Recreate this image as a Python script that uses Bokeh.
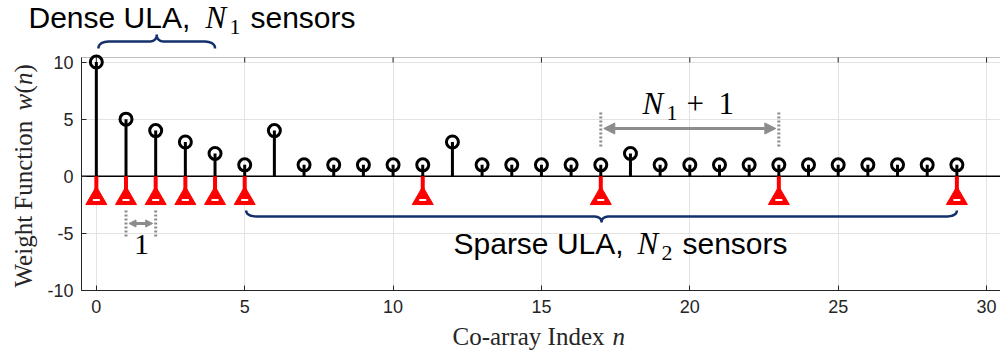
import numpy as np
from bokeh.plotting import figure
from bokeh.models import (Range1d, FixedTicker, Label, Arrow, NormalHead, Grid,
                          BoxAnnotation)
from bokeh.embed import file_html
from bokeh.resources import INLINE

# ---------------- data ----------------
n_index = list(range(30))
weights = [10, 5, 4, 3, 2, 1, 4, 1, 1, 1, 1, 1, 3, 1, 1, 1, 1, 1, 2, 1,
           1, 1, 1, 1, 1, 1, 1, 1, 1, 1]
sensor_pos = [0, 1, 2, 3, 4, 5, 11, 17, 23, 29]
dense_span = [0, 4]          # brace over dense ULA
sparse_span = [5, 29]        # brace under sparse ULA
dense_gap = [1, 2]           # spacing 1
sparse_gap = [17, 23]        # spacing N1+1
x_ticks = [0, 5, 10, 15, 20, 25, 30]
y_ticks = [-10, -5, 0, 5, 10]
x_box = (-0.5, 30.47)        # axes box (data units)
y_box = (-10, 10.4)

# ---------------- layout ----------------
W, H = 1000, 352
BOX_L, BOX_T, BOX_B = 81, 57, 290           # axes box edges in page pixels
PX_X = (W - BOX_L) / (x_box[1] - x_box[0])
PX_Y = (BOX_B - BOX_T) / (y_box[1] - y_box[0])
XR = (x_box[0] - BOX_L / PX_X, x_box[1])
YR = (y_box[0] - (H - BOX_B) / PX_Y, y_box[1] + BOX_T / PX_Y)


def dx(px):
    return XR[0] + px / PX_X


def dy(py):
    return YR[1] - py / PX_Y


AX = "#262626"
GRAY = "#8c8c8c"
NAVY = "#14306b"
RED = "#ff0000"
GRID = "#e3e3e3"
SERIF = "Liberation Serif"

p = figure(width=W, height=H, x_range=Range1d(*XR), y_range=Range1d(*YR),
           output_backend="svg", toolbar_location=None,
           min_border_left=0, min_border_right=0, min_border_top=0,
           min_border_bottom=0)
p.background_fill_color = "white"
p.border_fill_color = "white"
p.outline_line_color = None

for ax, tk, loc, bnd in ((p.xaxis[0], x_ticks, y_box[0], x_box),
                         (p.yaxis[0], y_ticks, x_box[0], y_box)):
    ax.fixed_location = loc
    ax.bounds = bnd
    ax.ticker = FixedTicker(ticks=tk)
    ax.major_tick_in = 5
    ax.major_tick_out = 0
    ax.minor_tick_line_color = None
    ax.axis_line_color = AX
    ax.major_tick_line_color = AX
    ax.major_label_text_font = "Liberation Sans"
    ax.major_label_text_font_size = "18px"
    ax.major_label_text_color = AX
p.xaxis.major_label_standoff = 9
p.yaxis.major_label_standoff = 8
p.yaxis.major_label_overrides = {-10: "-10", -5: "-5", 0: "0", 5: "5", 10: "10"}

# grid limited to the axes box
p.ygrid.ticker = FixedTicker(ticks=y_ticks)
p.xgrid.ticker = FixedTicker(ticks=x_ticks)
p.xgrid.grid_line_color = GRID
p.ygrid.grid_line_color = GRID
if "cross_bounds" in Grid.properties():
    p.xgrid.cross_bounds = y_box
    p.ygrid.cross_bounds = x_box
else:
    p.xgrid.visible = False
    p.ygrid.visible = False
    p.segment(x0=x_ticks, y0=[y_box[0]] * len(x_ticks), x1=x_ticks,
              y1=[y_box[1]] * len(x_ticks), line_color=GRID, line_width=1)
    p.segment(x0=[x_box[0]] * len(y_ticks), y0=y_ticks, x1=[x_box[1]] * len(y_ticks),
              y1=y_ticks, line_color=GRID, line_width=1)

# box + inward ticks on the top edge
p.add_layout(BoxAnnotation(left=x_box[0], right=x_box[1], bottom=y_box[0], top=y_box[1],
                           fill_alpha=0, line_color=AX, line_width=1))
p.segment(x0=x_ticks, y0=[y_box[1]] * len(x_ticks), x1=x_ticks,
          y1=[y_box[1] - 5 / PX_Y] * len(x_ticks), line_color=AX, line_width=1)

# ---------------- stems ----------------
p.segment(x0=n_index, y0=[0] * len(n_index), x1=n_index, y1=weights,
          line_color="black", line_width=3)
p.segment(x0=[x_box[0]], y0=[0], x1=[x_box[1]], y1=[0], line_color="black", line_width=1.5)

tri_y = dy(198)
p.segment(x0=sensor_pos, y0=[0] * len(sensor_pos), x1=sensor_pos,
          y1=[tri_y] * len(sensor_pos), line_color=RED, line_width=4)
p.scatter(x=sensor_pos, y=[tri_y] * len(sensor_pos), marker="triangle", size=21,
          fill_color=RED, line_color=RED, line_width=1)
p.scatter(x=sensor_pos, y=[dy(199.5)] * len(sensor_pos), marker="dash", size=7,
          line_color="white", line_width=2)

p.scatter(x=n_index, y=weights, marker="circle", size=12, fill_color=None,
          line_color="black", line_width=3)


# ---------------- braces ----------------
def brace(x0, x1, y_line, y_end, y_tip, r_end, r_tip):
    def quad(a, c, b, k=12):
        t = np.linspace(0, 1, k)[:, None]
        return (1 - t) ** 2 * np.array(a) + 2 * (1 - t) * t * np.array(c) + t ** 2 * np.array(b)
    xm = 0.5 * (x0 + x1)
    pts = np.vstack([
        quad((x0, y_end), (x0, y_line), (x0 + r_end, y_line)),
        quad((xm - r_tip, y_line), (xm, y_line), (xm, y_tip)),
        quad((xm, y_tip), (xm, y_line), (xm + r_tip, y_line)),
        quad((x1 - r_end, y_line), (x1, y_line), (x1, y_end)),
    ])
    return pts[:, 0], pts[:, 1]


bx, by = brace(dense_span[0] + 0.07, dense_span[1], dy(41), dy(48), dy(34), 12 / PX_X, 8 / PX_X)
p.line(bx, by, line_color=NAVY, line_width=2.5)
bx, by = brace(sparse_span[0] + 0.05, sparse_span[1], dy(216), dy(210), dy(222), 12 / PX_X, 8 / PX_X)
p.line(bx, by, line_color=NAVY, line_width=2.5)

# ---------------- spacing markers ----------------
p.segment(x0=sparse_gap, y0=[dy(112)] * 2, x1=sparse_gap, y1=[dy(146)] * 2,
          line_color=GRAY, line_width=3, line_dash="2 2")
p.add_layout(Arrow(x_start=sparse_gap[0] + 3 / PX_X, y_start=dy(128),
                   x_end=sparse_gap[1] - 3 / PX_X, y_end=dy(128),
                   line_color=GRAY, line_width=3,
                   start=NormalHead(size=11, fill_color=GRAY, line_color=GRAY),
                   end=NormalHead(size=11, fill_color=GRAY, line_color=GRAY)))
p.segment(x0=dense_gap, y0=[dy(210)] * 2, x1=dense_gap, y1=[dy(236)] * 2,
          line_color=GRAY, line_width=3, line_dash="2 2")
p.add_layout(Arrow(x_start=dense_gap[0] + 3 / PX_X, y_start=dy(223),
                   x_end=dense_gap[1] - 3 / PX_X, y_end=dy(223),
                   line_color=GRAY, line_width=3,
                   start=NormalHead(size=7, fill_color=GRAY, line_color=GRAY),
                   end=NormalHead(size=7, fill_color=GRAY, line_color=GRAY)))


# ---------------- texts ----------------
SHIFT = 0.4   # empirical baseline correction (fraction of font size)


def lab(px, py, text, font="Liberation Sans", size=30, style="normal",
        color="black", align="left", rotated=False):
    if rotated:
        px, angle = px - SHIFT * size, np.pi / 2
    else:
        py, angle = py - SHIFT * size, 0.0
    p.add_layout(Label(x=dx(px), y=dy(py), text=text, text_font=font,
                       text_font_size=f"{size}px", text_font_style=style,
                       text_color=color, text_align=align, angle=angle,
                       text_baseline="alphabetic"))


# Dense ULA, N1 sensors
lab(28, 29, "Dense ULA,")
lab(205, 29, "N", font=SERIF, size=31, style="italic")
lab(229, 35, "1", font=SERIF, size=22)
lab(250, 29, "sensors")
# Sparse ULA, N2 sensors
lab(453, 255, "Sparse ULA,")
lab(637, 255, "N", font=SERIF, size=31, style="italic")
lab(661, 261, "2", font=SERIF, size=22)
lab(682, 255, "sensors")
# N1 + 1
lab(642, 115, "N", font=SERIF, size=31, style="italic")
lab(666, 121, "1", font=SERIF, size=22)
lab(686, 115, "+", font=SERIF, size=31)
lab(718, 115, "1", font=SERIF, size=31)
# 1
lab(141, 256, "1", font=SERIF, size=30, align="center")

# axis labels
lab(452, 346, "Co-array Index", font=SERIF, size=25, color=AX)
lab(612, 346, "n", font=SERIF, size=25, style="italic", color=AX)
lab(33, 287, "Weight Function", font=SERIF, size=25, color=AX, rotated=True)
lab(33, 110, "w", font=SERIF, size=25, style="italic", color=AX, rotated=True)
lab(33, 93, "(", font=SERIF, size=25, color=AX, rotated=True)
lab(33, 84.5, "n", font=SERIF, size=25, style="italic", color=AX, rotated=True)
lab(33, 72, ")", font=SERIF, size=25, color=AX, rotated=True)

open("out.html", "w").write(file_html(p, INLINE))
